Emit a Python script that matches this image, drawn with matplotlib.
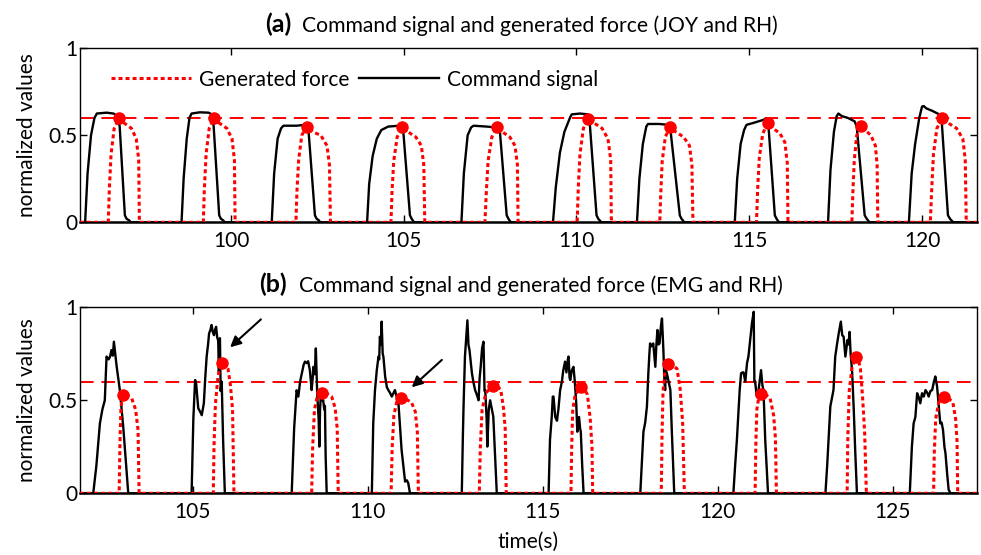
import numpy as np
import matplotlib
matplotlib.use("Agg")
import matplotlib.pyplot as plt

plt.rcParams["font.family"] = ["Lato", "DejaVu Sans"]

# (a) JOY and RH : command signal (black) vertices
cmd_a_t = [95.63,
    95.78, 95.85, 95.95, 96.05, 96.12, 96.40, 96.60, 96.72, 96.78, 96.93, 96.98, 97.06, 97.10,
    98.57, 98.63, 98.72, 98.80, 98.86, 99.10, 99.35, 99.45, 99.50, 99.66, 99.71, 99.78, 99.82,
    101.18, 101.25, 101.35, 101.45, 101.52, 101.90, 102.15, 102.24, 102.43, 102.48, 102.55, 102.58,
    103.94, 104.00, 104.10, 104.22, 104.35, 104.55, 104.88, 104.98, 105.18, 105.23, 105.30,
    106.67, 106.74, 106.85, 106.95, 107.02, 107.40, 107.68, 107.78, 107.98, 108.03, 108.10,
    109.32, 109.40, 109.52, 109.65, 109.81, 109.86, 110.10, 110.34, 110.38, 110.58, 110.63, 110.72,
    111.75, 111.82, 111.92, 112.02, 112.07, 112.40, 112.65, 112.72, 112.99, 113.04, 113.12,
    114.58, 114.65, 114.75, 114.85, 114.92, 115.10, 115.35, 115.50, 115.55, 115.74, 115.79, 115.86,
    117.28, 117.35, 117.45, 117.53, 117.58, 117.68, 117.85, 118.05, 118.11, 118.34, 118.40, 118.48,
    119.62, 119.70, 119.80, 119.92, 120.00, 120.05, 120.12, 120.30, 120.50, 120.57, 120.75, 120.81, 120.90,
    121.59]
cmd_a_v = [0,
    0, 0.28, 0.50, 0.60, 0.625, 0.63, 0.625, 0.61, 0.55, 0.04, 0.02, 0.01, 0,
    0, 0.25, 0.48, 0.60, 0.625, 0.632, 0.63, 0.62, 0.55, 0.04, 0.02, 0.01, 0,
    0, 0.28, 0.48, 0.54, 0.555, 0.555, 0.56, 0.54, 0.04, 0.02, 0.01, 0,
    0, 0.22, 0.38, 0.48, 0.53, 0.55, 0.555, 0.54, 0.04, 0.02, 0,
    0, 0.28, 0.50, 0.545, 0.555, 0.55, 0.545, 0.53, 0.04, 0.02, 0,
    0, 0.20, 0.40, 0.52, 0.60, 0.62, 0.625, 0.62, 0.58, 0.04, 0.02, 0,
    0, 0.25, 0.45, 0.55, 0.565, 0.565, 0.56, 0.53, 0.04, 0.02, 0,
    0, 0.25, 0.45, 0.53, 0.56, 0.57, 0.585, 0.595, 0.57, 0.04, 0.02, 0,
    0, 0.30, 0.52, 0.61, 0.625, 0.61, 0.60, 0.58, 0.55, 0.04, 0.02, 0,
    0, 0.28, 0.45, 0.60, 0.665, 0.668, 0.655, 0.64, 0.62, 0.58, 0.04, 0.02, 0,
    0]

# (a) generated force (red dotted) vertices
force_a_t = [95.63,
    96.45, 96.48, 96.53, 96.62, 96.77, 96.91, 97.12, 97.26, 97.33, 97.35,
    99.20, 99.23, 99.28, 99.37, 99.51, 99.66, 99.88, 100.03, 100.10, 100.12,
    101.88, 101.91, 101.96, 102.05, 102.19, 102.36, 102.60, 102.78, 102.85, 102.88,
    104.63, 104.66, 104.71, 104.81, 104.96, 105.12, 105.35, 105.51, 105.58, 105.61,
    107.35, 107.39, 107.44, 107.55, 107.70, 107.85, 108.07, 108.22, 108.29, 108.31,
    110.02, 110.05, 110.10, 110.20, 110.34, 110.51, 110.74, 110.91, 110.99, 111.01,
    112.41, 112.44, 112.48, 112.57, 112.70, 112.87, 113.10, 113.27, 113.34, 113.37,
    115.21, 115.24, 115.29, 115.39, 115.54, 115.69, 115.89, 116.03, 116.10, 116.12,
    117.97, 118.00, 118.04, 118.11, 118.23, 118.35, 118.52, 118.65, 118.70, 118.72,
    120.24, 120.28, 120.33, 120.43, 120.59, 120.76, 121.00, 121.18, 121.25, 121.28,
    121.59]
force_a_v = [0,
    0, 0.19, 0.39, 0.54, 0.60, 0.57, 0.54, 0.48, 0.36, 0,
    0, 0.19, 0.39, 0.54, 0.60, 0.57, 0.54, 0.48, 0.36, 0,
    0, 0.18, 0.36, 0.50, 0.55, 0.52, 0.50, 0.44, 0.33, 0,
    0, 0.17, 0.35, 0.49, 0.545, 0.52, 0.49, 0.44, 0.33, 0,
    0, 0.17, 0.35, 0.49, 0.545, 0.52, 0.49, 0.44, 0.33, 0,
    0, 0.19, 0.39, 0.54, 0.595, 0.57, 0.54, 0.48, 0.36, 0,
    0, 0.17, 0.35, 0.49, 0.545, 0.52, 0.49, 0.44, 0.33, 0,
    0, 0.18, 0.37, 0.51, 0.572, 0.54, 0.51, 0.46, 0.34, 0,
    0, 0.18, 0.36, 0.50, 0.555, 0.53, 0.50, 0.44, 0.33, 0,
    0, 0.19, 0.39, 0.54, 0.60, 0.57, 0.54, 0.48, 0.36, 0,
    0]

dots_a_t = [96.77, 99.51, 102.19, 104.96, 107.70, 110.34, 112.70, 115.54, 118.23, 120.59]
dots_a_v = [0.60, 0.60, 0.55, 0.545, 0.545, 0.595, 0.545, 0.572, 0.555, 0.60]

# (b) EMG and RH : command signal vertices
cmd_b_t = [101.78,
    102.16, 102.25, 102.35, 102.42, 102.49, 102.54, 102.60, 102.64, 102.68, 102.72, 102.75, 102.79, 102.83, 102.92, 103.02, 103.10, 103.16,
    104.97, 105.02, 105.07, 105.10, 105.16, 105.21, 105.26, 105.32, 105.36, 105.40, 105.44, 105.47, 105.51, 105.54, 105.57, 105.61,
    105.64, 105.67, 105.70, 105.73, 105.75, 105.77, 105.78, 105.80, 105.83, 105.87, 105.92,
    107.83, 107.90, 107.97, 108.02, 108.07, 108.12, 108.17, 108.21, 108.26, 108.30, 108.35, 108.40, 108.43, 108.45, 108.49, 108.52,
    108.56, 108.60, 108.62, 108.64, 108.67, 108.70, 108.73, 108.76, 108.78, 108.80, 108.83,
    110.12, 110.14, 110.16, 110.21, 110.26, 110.31, 110.33, 110.35, 110.38, 110.40, 110.43, 110.45, 110.50, 110.55, 110.59, 110.64,
    110.69, 110.74, 110.78, 110.83, 110.88, 110.97, 111.07, 111.12, 111.16, 111.21,
    112.69, 112.72, 112.74, 112.78, 112.82, 112.85, 112.88, 112.91, 112.95, 112.98, 113.02, 113.07, 113.12, 113.17, 113.20, 113.23,
    113.27, 113.31, 113.34, 113.36, 113.40, 113.42, 113.46, 113.50, 113.55, 113.59, 113.64, 113.69,
    115.17, 115.21, 115.26, 115.29, 115.31, 115.34, 115.36, 115.41, 115.45, 115.50, 115.55, 115.59, 115.64, 115.68, 115.72, 115.74,
    115.77, 115.79, 115.83, 115.88, 115.92, 115.96, 115.99, 116.02, 116.04, 116.07, 116.09, 116.13, 116.17,
    117.79, 117.88, 117.93, 117.98, 118.02, 118.05, 118.07, 118.11, 118.16, 118.22, 118.25, 118.28, 118.31, 118.34, 118.38, 118.41,
    118.45, 118.48, 118.50, 118.52, 118.55, 118.60, 118.65, 118.69, 118.76,
    120.45, 120.50, 120.55, 120.60, 120.63, 120.67, 120.71, 120.74, 120.79, 120.84, 120.88, 120.93, 120.98, 121.01, 121.03, 121.05,
    121.07, 121.12, 121.17, 121.24, 121.28, 121.31, 121.36, 121.44,
    123.08, 123.13, 123.17, 123.22, 123.31, 123.36, 123.41, 123.46, 123.52, 123.56, 123.60, 123.65, 123.68, 123.71, 123.74, 123.77,
    123.80, 123.84, 123.89, 123.93, 123.98,
    125.49, 125.55, 125.60, 125.65, 125.70, 125.74, 125.79, 125.84, 125.89, 125.94, 125.99, 126.03, 126.08, 126.13, 126.18, 126.22,
    126.27, 126.32, 126.36, 126.40, 126.44, 126.48, 126.51, 126.56, 126.60, 126.65,
    127.41]
cmd_b_v = [0,
    0, 0.15, 0.376, 0.45, 0.50, 0.735, 0.72, 0.735, 0.77, 0.74, 0.815, 0.75, 0.68, 0.555, 0.35, 0.15, 0,
    0, 0.40, 0.609, 0.59, 0.457, 0.44, 0.42, 0.484, 0.62, 0.735, 0.80, 0.86, 0.88, 0.905, 0.87, 0.85,
    0.88, 0.895, 0.84, 0.82, 0.65, 0.83, 0.834, 0.55, 0.60, 0.287, 0,
    0, 0.35, 0.554, 0.52, 0.60, 0.645, 0.69, 0.708, 0.70, 0.71, 0.66, 0.555, 0.62, 0.68, 0.64, 0.779,
    0.53, 0.40, 0.251, 0.45, 0.555, 0.50, 0.50, 0.45, 0.47, 0.20, 0,
    0, 0.20, 0.376, 0.555, 0.66, 0.735, 0.72, 0.842, 0.80, 0.923, 0.75, 0.735, 0.628, 0.57, 0.555, 0.54,
    0.52, 0.54, 0.555, 0.52, 0.484, 0.233, 0.063, 0.07, 0.055, 0,
    0, 0.30, 0.467, 0.735, 0.85, 0.93, 0.80, 0.77, 0.70, 0.645, 0.60, 0.555, 0.53, 0.50, 0.62, 0.68,
    0.78, 0.815, 0.55, 0.555, 0.40, 0.251, 0.45, 0.50, 0.45, 0.412, 0.20, 0,
    0, 0.287, 0.41, 0.52, 0.52, 0.45, 0.41, 0.39, 0.45, 0.555, 0.60, 0.662, 0.708, 0.65, 0.72, 0.735,
    0.62, 0.609, 0.66, 0.68, 0.60, 0.484, 0.331, 0.40, 0.41, 0.35, 0.331, 0.15, 0,
    0, 0.331, 0.38, 0.467, 0.645, 0.75, 0.806, 0.79, 0.806, 0.68, 0.80, 0.878, 0.80, 0.806, 0.90, 0.94,
    0.77, 0.60, 0.555, 0.66, 0.645, 0.60, 0.555, 0.34, 0,
    0, 0.15, 0.287, 0.45, 0.555, 0.645, 0.65, 0.65, 0.60, 0.70, 0.735, 0.824, 0.914, 0.95, 0.976, 0.60,
    0.60, 0.52, 0.555, 0.662, 0.58, 0.555, 0.287, 0,
    0, 0.15, 0.287, 0.467, 0.555, 0.735, 0.80, 0.86, 0.923, 0.85, 0.842, 0.735, 0.78, 0.824, 0.80, 0.868,
    0.75, 0.662, 0.447, 0.233, 0,
    0, 0.25, 0.376, 0.41, 0.538, 0.52, 0.484, 0.538, 0.52, 0.555, 0.54, 0.52, 0.55, 0.555, 0.60, 0.628,
    0.575, 0.467, 0.376, 0.38, 0.34, 0.25, 0.215, 0.10, 0.02, 0,
    0]

# (b) generated force vertices
force_b_t = [101.78,
    102.90, 102.92, 102.95, 102.98, 103.02, 103.14, 103.26, 103.37, 103.44, 103.47,
    105.59, 105.61, 105.65, 105.72, 105.78, 105.83, 105.93, 106.01, 106.08, 106.14, 106.18,
    108.40, 108.43, 108.48, 108.56, 108.70, 108.85, 108.97, 109.07, 109.13, 109.16,
    110.67, 110.70, 110.75, 110.83, 110.95, 111.10, 111.25, 111.36, 111.42, 111.45,
    113.19, 113.22, 113.27, 113.38, 113.57, 113.68, 113.80, 113.88, 113.93, 113.96,
    115.81, 115.83, 115.86, 115.93, 116.10, 116.18, 116.28, 116.36, 116.41, 116.43,
    118.39, 118.41, 118.44, 118.50, 118.57, 118.70, 118.84, 118.93, 119.00, 119.05,
    121.07, 121.09, 121.12, 121.17, 121.24, 121.38, 121.50, 121.60, 121.65, 121.68,
    123.70, 123.72, 123.76, 123.84, 123.96, 124.02, 124.08, 124.14, 124.20, 124.25,
    126.17, 126.19, 126.23, 126.32, 126.46, 126.60, 126.72, 126.80, 126.84, 126.86,
    127.41]
force_b_v = [0,
    0, 0.25, 0.45, 0.51, 0.53, 0.525, 0.51, 0.45, 0.34, 0,
    0, 0.25, 0.48, 0.62, 0.68, 0.70, 0.695, 0.67, 0.58, 0.45, 0,
    0, 0.25, 0.45, 0.52, 0.54, 0.535, 0.52, 0.46, 0.35, 0,
    0, 0.24, 0.42, 0.49, 0.51, 0.505, 0.49, 0.44, 0.33, 0,
    0, 0.25, 0.45, 0.54, 0.577, 0.575, 0.56, 0.46, 0.35, 0,
    0, 0.25, 0.45, 0.53, 0.57, 0.565, 0.53, 0.40, 0.25, 0,
    0, 0.30, 0.55, 0.66, 0.695, 0.69, 0.67, 0.56, 0.38, 0,
    0, 0.25, 0.45, 0.51, 0.534, 0.53, 0.51, 0.42, 0.30, 0,
    0, 0.30, 0.55, 0.68, 0.735, 0.72, 0.67, 0.52, 0.33, 0,
    0, 0.22, 0.40, 0.49, 0.516, 0.51, 0.49, 0.40, 0.28, 0,
    0]

dots_b_t = [103.02, 105.83, 108.70, 110.95, 113.57, 116.10, 118.57, 121.24, 123.96, 126.46]
dots_b_v = [0.53, 0.70, 0.54, 0.51, 0.577, 0.57, 0.695, 0.534, 0.735, 0.516]

threshold = 0.6
xlim_a = (95.63, 121.59)
xlim_b = (101.78, 127.41)
xticks_a = [100, 105, 110, 115, 120]
xticks_b = [105, 110, 115, 120, 125]
# arrows in (b): (tail t, tail v, head t, head v)
arrows_b = [(106.95, 0.935, 106.07, 0.785), (112.12, 0.717, 111.26, 0.57)]

fig = plt.figure(figsize=(9.81, 5.55), dpi=100)
ax1 = fig.add_axes([0.0815, 0.5995, 0.9144, 0.3135])
ax2 = fig.add_axes([0.0815, 0.1112, 0.9144, 0.3351])

dotted = (0, (1.3, 1.0))
for ax, ct, cv, ft, fv, dt, dv, xl, xt in [
        (ax1, cmd_a_t, cmd_a_v, force_a_t, force_a_v, dots_a_t, dots_a_v, xlim_a, xticks_a),
        (ax2, cmd_b_t, cmd_b_v, force_b_t, force_b_v, dots_b_t, dots_b_v, xlim_b, xticks_b)]:
    ax.plot(ct, cv, color="black", lw=1.7, label="Command signal", zorder=3)
    ax.plot(ft, fv, color="red", lw=2.2, linestyle=dotted, label="Generated force", zorder=4)
    ax.axhline(threshold, color="red", lw=1.4, linestyle=(0, (7, 4)), zorder=2)
    ax.plot(dt, dv, "o", color="red", markersize=8, zorder=5)
    ax.set_xlim(*xl)
    ax.set_ylim(0, 1)
    ax.set_xticks(xt)
    ax.set_yticks([0, 0.5, 1])
    ax.set_yticklabels(["0", "0.5", "1"])
    ax.tick_params(direction="in", top=True, right=True, length=5, width=1,
                   labelsize=15)
    ax.tick_params(axis="y", pad=2)
    ax.tick_params(axis="x", pad=6.5)
    ax.set_ylabel("normalized values", fontsize=15, labelpad=8)
    for s in ax.spines.values():
        s.set_linewidth(1.0)
    ax.spines["bottom"].set_linewidth(1.8)

# panel titles: bold letter followed by plain text
fig.text(265 / 981, 1 - 32 / 555, "(a)", fontsize=18, fontweight="bold", ha="left", va="baseline")
fig.text(302 / 981, 1 - 32 / 555, "Command signal and generated force (JOY and RH)",
         fontsize=15.2, ha="left", va="baseline")
fig.text(259 / 981, 1 - 292 / 555, "(b)", fontsize=18, fontweight="bold", ha="left", va="baseline")
fig.text(299 / 981, 1 - 292 / 555, "Command signal and generated force (EMG and RH)",
         fontsize=15.2, ha="left", va="baseline")

ax2.set_xlabel("time(s)", fontsize=15, labelpad=7)

h, l = ax1.get_legend_handles_labels()
ax1.legend([h[1], h[0]], [l[1], l[0]], ncol=2, frameon=False, fontsize=15,
           loc="center left", bbox_to_anchor=(0.025, 0.82), handlelength=3.85,
           handletextpad=0.38, columnspacing=0.48, borderaxespad=0)

for tx, tv, hx, hv in arrows_b:
    ax2.annotate("", xy=(hx, hv), xytext=(tx, tv),
                 arrowprops=dict(arrowstyle="-|>", color="black", lw=1.5,
                                 mutation_scale=16, shrinkA=0, shrinkB=0))

fig.savefig("out.png", dpi=100)
